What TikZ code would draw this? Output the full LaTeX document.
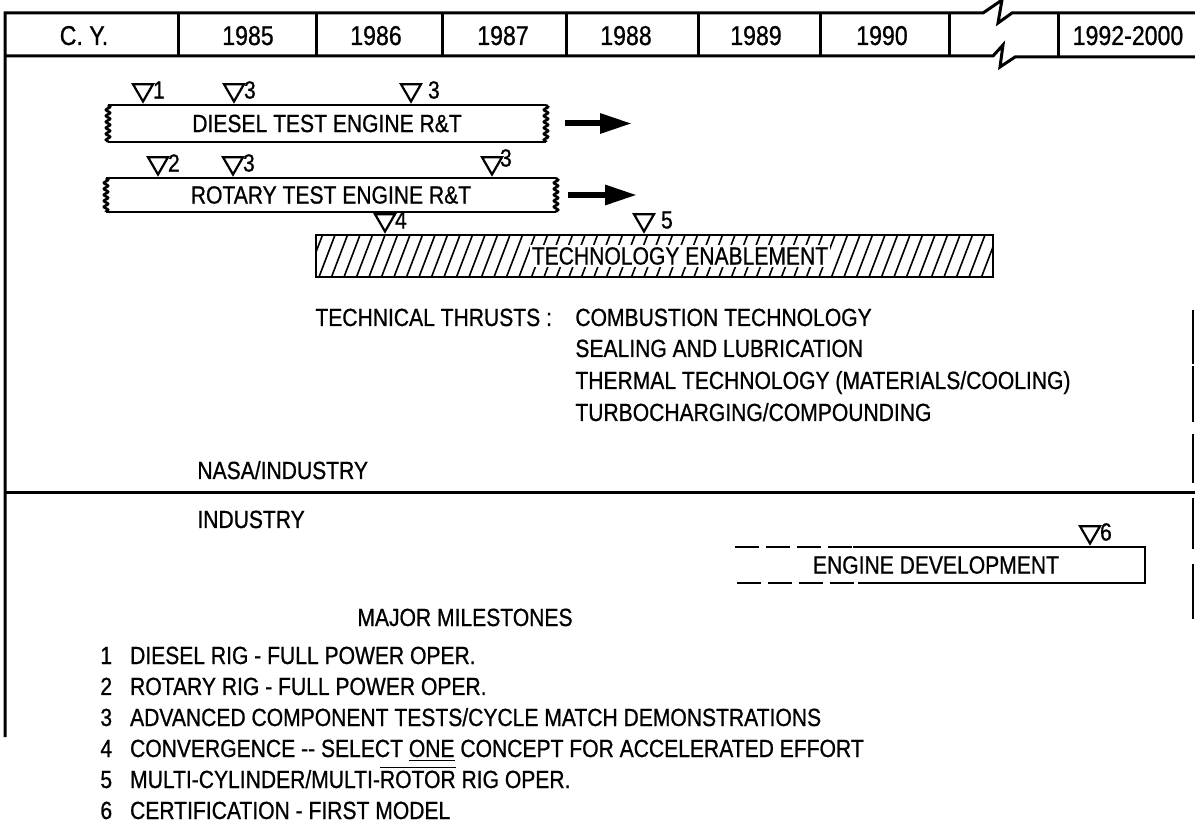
\documentclass[tikz,border=0pt]{standalone}
\usepackage{fontspec}
\setmainfont[FakeStretch=0.85,FakeBold=0.8]{Liberation Sans}
\usetikzlibrary{arrows.meta,shapes.geometric,decorations.pathmorphing}

\tikzset{
  every node/.style={font=\fontsize{12.4}{14}\selectfont, inner sep=0pt},
  rule/.style={line width=1.5pt},
  bar/.style={line width=1.3pt},
  wavy/.style={line width=1.3pt, decorate, decoration={snake, amplitude=1pt, segment length=3pt}},
  barbox/.style={minimum height=#1, outer sep=0pt},
  mstone/.style={draw, line width=1.1pt, regular polygon, regular polygon sides=3,
    shape border rotate=180, minimum size=11.5pt, outer sep=0pt},
  goarrow/.style={line width=3pt, -{Triangle[length=16pt,width=9.5pt]}},
  lst/.style={anchor=base west}
}

\begin{document}
\begin{tikzpicture}[x=0.5pt,y=-0.5pt]
\useasboundingbox (0,0) rectangle (1195,828);

% calendar row
\draw[rule] (5,737) -- (5,13) -- (983,13) -- (1002,0) -- (998,23) -- (1012,13) -- (1195,13);
\draw[rule] (5,56) -- (993,56) -- (1003,45) -- (1000,67) -- (1015,57) -- (1195,57);
\foreach \x in {178,316,442,566,698,820,949,1058}
  \draw[rule] (\x,13) -- (\x,56);
\foreach \x/\t in {84/C. Y.,248/1985,376/1986,503/1987,626/1988,756/1989,882/1990,1128/1992-2000}
  \node[anchor=base, font=\fontsize{13.6}{15}\selectfont] (yr\x) at (\x,45) {\t};

% test engines
\node[barbox=18.5pt, minimum width=219pt] (diesel) at (327,123.5) {DIESEL TEST ENGINE R\&T};
\draw[bar] (diesel.north west) -- (diesel.north east) (diesel.south west) -- (diesel.south east);
\draw[wavy] (diesel.north west) -- (diesel.south west);
\draw[wavy] (diesel.north east) -- (diesel.south east);
\coordinate (dieseltip) at (632,123.5);
\draw[goarrow] ([xshift=9.5pt]diesel.east) -- (dieseltip);

\node[barbox=17pt, minimum width=225pt] (rotary) at (331,195) {ROTARY TEST ENGINE R\&T};
\draw[bar] (rotary.north west) -- (rotary.north east) (rotary.south west) -- (rotary.south east);
\draw[wavy] (rotary.north west) -- (rotary.south west);
\draw[wavy] (rotary.north east) -- (rotary.south east);
\coordinate (rotarytip) at (637,195);
\draw[goarrow] ([xshift=6pt]rotary.east) -- (rotarytip);

\node[mstone, label={[label distance=1.5pt]east:1}] (m1) at (143,90) {};
\node[mstone, label={[label distance=1.5pt]east:3}] (m3a) at (234,90) {};
\node[mstone, label={[label distance=5pt]east:3}] (m3b) at (411,90) {};
\node[mstone, label={[label distance=1.5pt]east:2}] (m2) at (158,163) {};
\node[mstone, label={[label distance=1.5pt]east:3}] (m3c) at (233,163) {};
\node[mstone, label={[label distance=0.5pt, yshift=2.5pt]east:3}] (m3d) at (492,163) {};

% technology enablement
\node[barbox=21pt, minimum width=338.5pt] (tech) at (654.5,256) {};
\begin{scope}
  \clip (tech.south west) rectangle (tech.north east);
  \foreach \i in {0,...,58}
    \draw[line width=0.8pt] (294+\i*12.5,277) -- ++(16,-42);
\end{scope}
\draw[bar] (tech.south west) rectangle (tech.north east);
\node[fill=white, inner sep=1pt] (techtext) at (680,256) {TECHNOLOGY ENABLEMENT};
\node[mstone, label={[label distance=1.5pt]east:4}] (m4) at (385,220) {};
\node[mstone, label={[label distance=5pt]east:5}] (m5) at (644,220) {};

\node[lst] (thrusts) at (315,326) {TECHNICAL THRUSTS :};
\node[lst] (t1) at (575,326) {COMBUSTION TECHNOLOGY};
\node[lst] (t2) at (575,357) {SEALING AND LUBRICATION};
\node[lst] (t3) at (575,389) {THERMAL TECHNOLOGY (MATERIALS/COOLING)};
\node[lst] (t4) at (575,421) {TURBOCHARGING/COMPOUNDING};

% nasa / industry split
\node[lst] (nasa) at (197,479) {NASA/INDUSTRY};
\draw[rule] (5,493) -- (1195,493);
\node[lst] (industry) at (197,528) {INDUSTRY};
\foreach \a/\b in {310/364,366/422,434/483,498/549,564/619}
  \draw[line width=1pt] (1193,\a) -- (1193,\b);

% engine development
\draw[bar, dash pattern=on 12pt off 3.5pt] (735,547) -- (853,547);
\draw[bar, dash pattern=on 12pt off 3.5pt] (737,583) -- (858,583);
\draw[bar] (853,547) -- (1145,547) -- (1145,583) -- (858,583);
\node (engdev) at (936,565) {ENGINE DEVELOPMENT};
\node[mstone, label={[label distance=1.5pt]east:6}] (m6) at (1090,532) {};

% milestones
\node[anchor=base] (major) at (465,626) {MAJOR MILESTONES};
\node[lst] (l1) at (100,664) {1\hspace{9pt}DIESEL RIG - FULL POWER OPER.};
\node[lst] (l2) at (100,695) {2\hspace{9pt}ROTARY RIG - FULL POWER OPER.};
\node[lst] (l3) at (100,726) {3\hspace{9pt}ADVANCED COMPONENT TESTS/CYCLE MATCH DEMONSTRATIONS};
\node[lst] (l4) at (100,757) {4\hspace{9pt}CONVERGENCE -{}- SELECT \underline{ONE} CONCEPT FOR ACCELERATED EFFORT};
\node[lst] (l5) at (100,788) {5\hspace{9pt}MULTI-CYLINDER/MULTI-$\overline{\mbox{ROTOR}}$ RIG OPER.};
\node[lst] (l6) at (100,819) {6\hspace{9pt}CERTIFICATION - FIRST MODEL};
\end{tikzpicture}
\end{document}
